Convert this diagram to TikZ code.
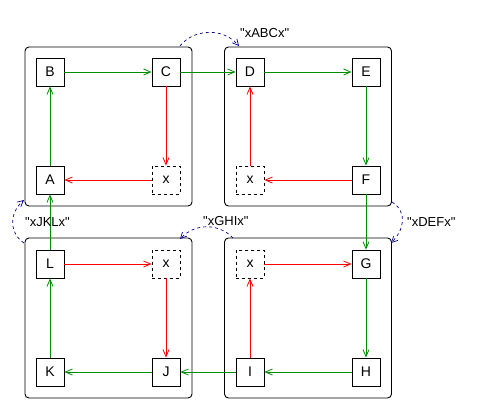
\documentclass[tikz,border=0pt]{standalone}
\usepackage{fontspec}
\setmainfont{Liberation Sans}
\usetikzlibrary{arrows.meta}
\definecolor{grn}{RGB}{0,140,0}
\definecolor{rd}{RGB}{255,0,0}
\definecolor{nv}{RGB}{0,0,140}
\tikzset{
  frame/.style={draw, line width=0.9bp, rounded corners=4bp, minimum width=167bp, minimum height=159bp, inner sep=0},
  sq/.style={draw, line width=0.8bp, minimum size=28bp, inner sep=0, font=\fontsize{14bp}{16bp}\selectfont, fill=white},
  dsq/.style={sq, dashed},
  ga/.style={draw=grn, line width=0.8bp, -{Straight Barb[length=7bp,width=6bp]}},
  ra/.style={draw=rd, line width=0.8bp, -{Straight Barb[length=7bp,width=6bp]}},
  ba/.style={draw=nv, line width=0.7bp, dashed, dash pattern=on 3bp off 3bp, -{Straight Barb[length=6bp,width=6bp]}},
  lbl/.style={font=\fontsize{13bp}{15bp}\selectfont, inner sep=0}
}
\begin{document}
\begin{tikzpicture}[x=1bp,y=-1bp]
\useasboundingbox (0,0) rectangle (494,410);
% frames
\node[frame] (TL) at (108.5,126.5) {};
\node[frame] (TR) at (308,126.5) {};
\node[frame, minimum height=160bp] (BL) at (108.5,318) {};
\node[frame, minimum height=160bp] (BR) at (308,318) {};
% nodes
\node[sq] (B) at (50,72) {B};
\node[sq] (C) at (166,72) {C};
\node[sq] (A) at (50,180) {A};
\node[dsq] (x1) at (166,180) {x};
\node[sq] (D) at (250,72) {D};
\node[sq] (E) at (366,72) {E};
\node[dsq] (x2) at (250,180) {x};
\node[sq] (F) at (366,180) {F};
\node[sq] (L) at (50,264) {L};
\node[dsq] (x3) at (166,264) {x};
\node[sq] (K) at (50,372) {K};
\node[sq] (J) at (166,372) {J};
\node[dsq] (x4) at (250,264) {x};
\node[sq] (G) at (366,264) {G};
\node[sq] (I) at (250,372) {I};
\node[sq] (H) at (366,372) {H};
% top-left
\draw[ga] (A) -- (B);
\draw[ga] (B) -- (C);
\draw[ra] (C) -- (x1);
\draw[ra] (x1) -- (A);
% top-right
\draw[ga] (C) -- (D);
\draw[ga] (D) -- (E);
\draw[ga] (E) -- (F);
\draw[ra] (F) -- (x2);
\draw[ra] (x2) -- (D);
% bottom-right
\draw[ga] (F) -- (G);
\draw[ga] (G) -- (H);
\draw[ga] (H) -- (I);
\draw[ra] (I) -- (x4);
\draw[ra] (x4) -- (G);
% bottom-left
\draw[ga] (I) -- (J);
\draw[ga] (J) -- (K);
\draw[ga] (K) -- (L);
\draw[ra] (L) -- (x3);
\draw[ra] (x3) -- (J);
\draw[ga] (L) -- (A);
% dashed curves
\coordinate (abc1) at (180,46);
\coordinate (abc2) at (239,46);
\draw[ba] (abc1) .. controls (192,30) and (222,26) .. (abc2);
\node[lbl, anchor=west] (labc) at (240,33) {\textquotedbl xABCx\textquotedbl};
\coordinate (def1) at (392,202);
\coordinate (def2) at (391,243);
\draw[ba] (def1) .. controls (408,212) and (404,230) .. (def2);
\node[lbl, anchor=west] (ldef) at (407,222) {\textquotedbl xDEFx\textquotedbl};
\coordinate (ghi1) at (233,238);
\coordinate (ghi2) at (180,239);
\draw[ba] (ghi1) .. controls (220,224) and (196,222) .. (ghi2);
\node[lbl, anchor=west] (lghi) at (203,221) {\textquotedbl xGHIx\textquotedbl};
\coordinate (jkl1) at (24,243);
\coordinate (jkl2) at (24,200);
\draw[ba] (jkl1) .. controls (8,232) and (10,212) .. (jkl2);
\node[lbl, anchor=west] (ljkl) at (25,222) {\textquotedbl xJKLx\textquotedbl};
\end{tikzpicture}
\end{document}
